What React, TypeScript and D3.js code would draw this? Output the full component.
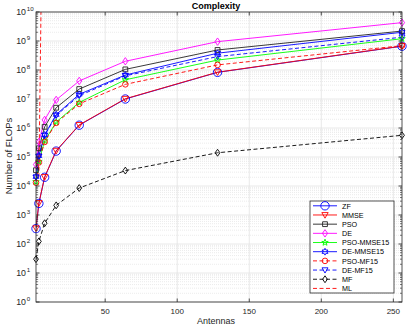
import React from "react";
import * as d3 from "d3";

const antennas = [2, 4, 8, 16, 32, 64, 128, 256];
const zf = [340, 2500, 20000, 160000, 1.25e6, 1.0e7, 8.3e7, 6.6e8];
const mmse = [350, 2600, 20500, 165000, 1.28e6, 1.02e7, 8.4e7, 6.7e8];
const pso = [3.5e4, 2.0e5, 1.1e6, 5.0e6, 2.2e7, 1.05e8, 4.9e8, 2.2e9];
const de = [5.5e4, 3.3e5, 1.9e6, 9.3e6, 4.2e7, 2.0e8, 9.5e8, 4.3e9];
const psoMmse15 = [1.4e4, 7.0e4, 3.6e5, 1.6e6, 7.6e6, 4.6e7, 2.2e8, 1.2e9];
const deMmse15 = [2.1e4, 1.1e5, 5.8e5, 2.9e6, 1.45e7, 6.7e7, 3.8e8, 2.0e9];
const psoMf15 = [1.3e4, 6.5e4, 3.3e5, 1.5e6, 6.8e6, 3.2e7, 1.5e8, 6.9e8];
const deMf15 = [2.0e4, 1.05e5, 5.5e5, 2.7e6, 1.3e7, 6.3e7, 2.9e8, 1.35e9];
const mf = [30, 123, 520, 2150, 8500, 34000, 1.4e5, 5.6e5];
const mlAntennas = [4, 8];
const ml = [2e4, 1e20];

const xTicks = [50, 100, 150, 200, 250];
const yExponents = [0, 1, 2, 3, 4, 5, 6, 7, 8, 9, 10];

type Series = {
  name: string;
  xs: number[];
  ys: number[];
  color: string;
  dash?: string;
  marker: string;
  size: number;
};

const series: Series[] = [
  { name: "ZF", xs: antennas, ys: zf, color: "#0000ff", marker: "circle", size: 4.2 },
  { name: "MMSE", xs: antennas, ys: mmse, color: "#ff0000", marker: "tridown", size: 3.2 },
  { name: "PSO", xs: antennas, ys: pso, color: "#222222", marker: "square", size: 2.4 },
  { name: "DE", xs: antennas, ys: de, color: "#ff00ff", marker: "diamond", size: 3.2 },
  { name: "PSO-MMSE15", xs: antennas, ys: psoMmse15, color: "#00ff00", marker: "pentagram", size: 3.4 },
  { name: "DE-MMSE15", xs: antennas, ys: deMmse15, color: "#0000ff", marker: "hexagram", size: 3.4 },
  { name: "PSO-MF15", xs: antennas, ys: psoMf15, color: "#ff0000", dash: "4,2.5", marker: "circle", size: 2.8 },
  { name: "DE-MF15", xs: antennas, ys: deMf15, color: "#0000ff", dash: "4,2.5", marker: "tridown", size: 3 },
  { name: "MF", xs: antennas, ys: mf, color: "#000000", dash: "4,2.5", marker: "diamond", size: 3 },
  { name: "ML", xs: mlAntennas, ys: ml, color: "#ff0000", dash: "4,2.5", marker: "none", size: 0 },
];

function starPath(cx: number, cy: number, n: number, r: number, ri: number, rot: number) {
  const p = d3.path();
  for (let i = 0; i < 2 * n; i++) {
    const rr = i % 2 === 0 ? r : ri;
    const a = rot + (i * Math.PI) / n;
    const px = cx + rr * Math.sin(a);
    const py = cy - rr * Math.cos(a);
    if (i === 0) p.moveTo(px, py);
    else p.lineTo(px, py);
  }
  p.closePath();
  return p.toString();
}

function markerPath(kind: string, cx: number, cy: number, s: number) {
  const p = d3.path();
  switch (kind) {
    case "circle":
      p.arc(cx, cy, s, 0, Math.PI * 2);
      return p.toString();
    case "square":
      p.rect(cx - s, cy - s, 2 * s, 2 * s);
      return p.toString();
    case "diamond":
      p.moveTo(cx, cy - s * 1.15);
      p.lineTo(cx + s * 0.8, cy);
      p.lineTo(cx, cy + s * 1.15);
      p.lineTo(cx - s * 0.8, cy);
      p.closePath();
      return p.toString();
    case "tridown":
      p.moveTo(cx - s, cy - s * 0.75);
      p.lineTo(cx + s, cy - s * 0.75);
      p.lineTo(cx, cy + s);
      p.closePath();
      return p.toString();
    case "pentagram":
      return starPath(cx, cy, 5, s, s * 0.4, 0);
    case "hexagram":
      return starPath(cx, cy, 6, s, s * 0.55, 0);
    default:
      return "";
  }
}

export default function App() {
  const W = 407;
  const H = 327;
  const left = 36;
  const right = 402;
  const top = 12;
  const bottom = 302;

  const x = d3.scaleLinear().domain([2, 256]).range([left, right]);
  const y = d3.scaleLog().domain([1, 1e10]).range([bottom, top]);

  const minorY: number[] = [];
  for (let e = 0; e < 10; e++) {
    for (let m = 2; m <= 9; m++) minorY.push(m * Math.pow(10, e));
  }

  const line = d3
    .line<[number, number]>()
    .x((d) => x(d[0]))
    .y((d) => y(d[1]));

  const font = "'Liberation Sans', Arial, Helvetica, sans-serif";
  const grid = "#e3e3e3";
  const axisColor = "#262626";

  const legX = 310;
  const legY = 201;
  const legW = 84;
  const legH = 92;
  const legStep = 9.18;

  return (
    <svg width={W} height={H} style={{ position: "absolute", left: 0, top: 0 }} fontFamily={font}>
      <defs>
        <clipPath id="plotclip">
          <rect x={left} y={top} width={right - left} height={bottom - top} />
        </clipPath>
      </defs>
      <rect x={0} y={0} width={W} height={H} fill="#ffffff" />
      <rect x={left} y={top} width={right - left} height={bottom - top} fill="#ffffff" />
      {minorY.map((v, i) => (
        <line key={"mg" + i} x1={left} x2={right} y1={y(v)} y2={y(v)} stroke={grid} strokeWidth={0.7} strokeDasharray="1,1" />
      ))}
      {yExponents.map((e) => (
        <line key={"yg" + e} x1={left} x2={right} y1={y(Math.pow(10, e))} y2={y(Math.pow(10, e))} stroke={grid} strokeWidth={0.8} />
      ))}
      {xTicks.map((t) => (
        <line key={"xg" + t} x1={x(t)} x2={x(t)} y1={top} y2={bottom} stroke={grid} strokeWidth={0.8} />
      ))}
      <g clipPath="url(#plotclip)">
        {series.map((s) => (
          <path
            key={"l" + s.name}
            d={line(s.xs.map((v, i) => [v, s.ys[i]] as [number, number])) || ""}
            fill="none"
            stroke={s.color}
            strokeWidth={0.9}
            strokeDasharray={s.dash}
          />
        ))}
      </g>
      <g>
        {series.map((s) =>
          s.marker === "none"
            ? null
            : s.xs.map((v, i) => (
                <path
                  key={"m" + s.name + i}
                  d={markerPath(s.marker, x(v), y(s.ys[i]), s.size)}
                  fill="none"
                  stroke={s.color}
                  strokeWidth={0.9}
                />
              ))
        )}
      </g>
      <rect x={left} y={top} width={right - left} height={bottom - top} fill="none" stroke={axisColor} strokeWidth={0.8} />
      {xTicks.map((t) => (
        <g key={"xt" + t}>
          <line x1={x(t)} x2={x(t)} y1={bottom} y2={bottom - 3.5} stroke={axisColor} strokeWidth={0.8} />
          <line x1={x(t)} x2={x(t)} y1={top} y2={top + 3.5} stroke={axisColor} strokeWidth={0.8} />
          <text x={x(t)} y={314} fontSize={8} textAnchor="middle" fill={axisColor}>
            {t}
          </text>
        </g>
      ))}
      {yExponents.map((e) => (
        <g key={"yt" + e}>
          <line x1={left} x2={left + 3.5} y1={y(Math.pow(10, e))} y2={y(Math.pow(10, e))} stroke={axisColor} strokeWidth={0.8} />
          <line x1={right} x2={right - 3.5} y1={y(Math.pow(10, e))} y2={y(Math.pow(10, e))} stroke={axisColor} strokeWidth={0.8} />
          <text x={26} y={y(Math.pow(10, e)) + 3.2} fontSize={8.8} textAnchor="end" fill={axisColor}>
            10
          </text>
          <text x={26.8} y={y(Math.pow(10, e)) - 1} fontSize={6.2} textAnchor="start" fill={axisColor}>
            {e}
          </text>
        </g>
      ))}
      {minorY.map((v, i) => (
        <g key={"ym" + i}>
          <line x1={left} x2={left + 2} y1={y(v)} y2={y(v)} stroke={axisColor} strokeWidth={0.6} />
          <line x1={right} x2={right - 2} y1={y(v)} y2={y(v)} stroke={axisColor} strokeWidth={0.6} />
        </g>
      ))}
      <text x={216} y={9} fontSize={9} fontWeight="bold" textAnchor="middle" fill="#000">
        Complexity
      </text>
      <text x={216} y={324} fontSize={9} textAnchor="middle" fill={axisColor}>
        Antennas
      </text>
      <text
        transform={`translate(12,156) rotate(-90)`}
        fontSize={9.5}
        textAnchor="middle"
        fill={axisColor}
      >
        Number of FLOPs
      </text>
      <rect x={legX} y={legY} width={legW} height={legH} fill="#ffffff" stroke={axisColor} strokeWidth={0.8} />
      {series.map((s, i) => {
        const cy = legY + 4.8 + i * legStep;
        return (
          <g key={"lg" + s.name}>
            <line x1={legX + 3} x2={legX + 27} y1={cy} y2={cy} stroke={s.color} strokeWidth={0.9} strokeDasharray={s.dash} />
            {s.marker !== "none" && (
              <path d={markerPath(s.marker, legX + 15, cy, s.size)} fill="none" stroke={s.color} strokeWidth={0.9} />
            )}
            <text x={legX + 32} y={cy + 2.7} fontSize={7.2} fill="#000">
              {s.name}
            </text>
          </g>
        );
      })}
    </svg>
  );
}
